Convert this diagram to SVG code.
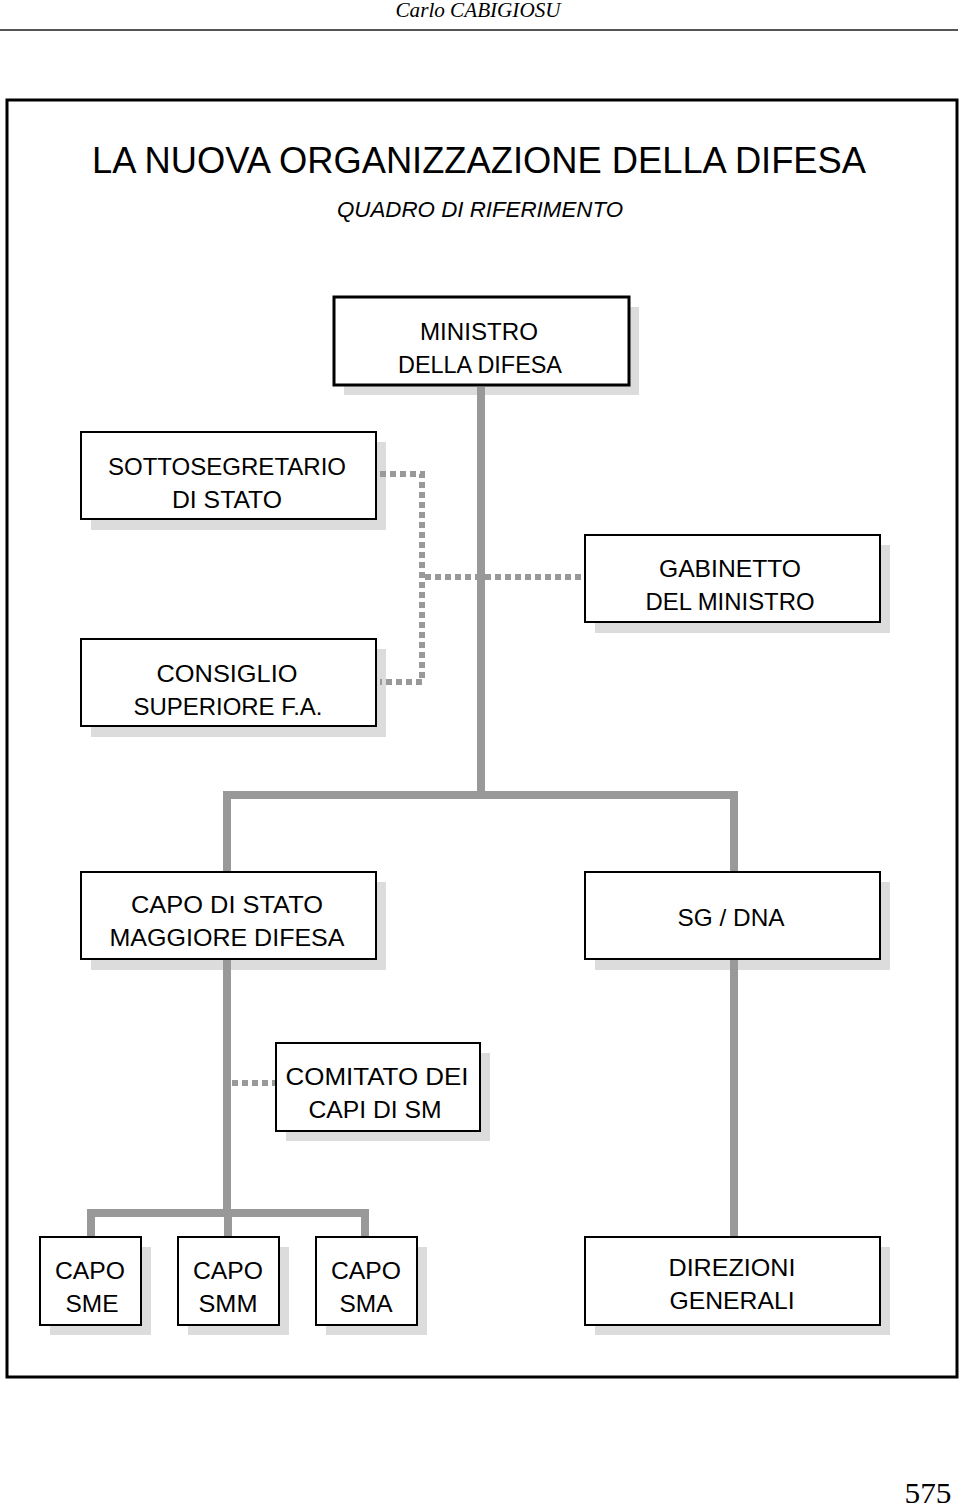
<svg xmlns="http://www.w3.org/2000/svg" width="960" height="1509" viewBox="0 0 960 1509">
<style>
.box{fill:#fff;stroke:#000;stroke-width:2}
.shadow{fill:#dcdcdc}
.t{font-family:"Liberation Sans",Arial,sans-serif;font-size:24px;fill:#000;text-anchor:middle}
.solid{fill:none;stroke:#999;stroke-width:8}
.dot{fill:none;stroke:#999;stroke-width:6;stroke-dasharray:6 4}
</style>
<rect width="960" height="1509" fill="#fff"/>
<text x="478" y="17" font-family="Liberation Serif,serif" font-style="italic" font-size="21" text-anchor="middle" textLength="165" lengthAdjust="spacingAndGlyphs">Carlo CABIGIOSU</text>
<line x1="0" y1="30" x2="958" y2="30" stroke="#555" stroke-width="2"/>
<rect x="7" y="100" width="950" height="1277" fill="none" stroke="#000" stroke-width="3"/>
<text x="479" y="173" font-family="Liberation Sans,Arial,sans-serif" font-size="36" text-anchor="middle" textLength="774" lengthAdjust="spacingAndGlyphs">LA NUOVA ORGANIZZAZIONE DELLA DIFESA</text>
<text x="480" y="217" font-family="Liberation Sans,Arial,sans-serif" font-style="italic" font-size="22" text-anchor="middle" textLength="286" lengthAdjust="spacingAndGlyphs">QUADRO DI RIFERIMENTO</text>

<g id="ministro">
<rect class="shadow" x="344" y="307" width="295" height="88"/>
<rect x="334" y="297" width="295" height="88" fill="#fff" stroke="#000" stroke-width="3"/>
<text class="t" x="479" y="340" textLength="118" lengthAdjust="spacingAndGlyphs">MINISTRO</text>
<text class="t" x="480" y="373" textLength="164" lengthAdjust="spacingAndGlyphs">DELLA DIFESA</text>
</g>
<g id="sottosegretario">
<rect class="shadow" x="91" y="442" width="295" height="88"/>
<rect class="box" x="81" y="432" width="295" height="87"/>
<text class="t" x="227" y="475" textLength="238" lengthAdjust="spacingAndGlyphs">SOTTOSEGRETARIO</text>
<text class="t" x="227" y="508" textLength="110" lengthAdjust="spacingAndGlyphs">DI STATO</text>
</g>
<g id="gabinetto">
<rect class="shadow" x="595" y="545" width="295" height="88"/>
<rect class="box" x="585" y="535" width="295" height="87"/>
<text class="t" x="730" y="577" textLength="142" lengthAdjust="spacingAndGlyphs">GABINETTO</text>
<text class="t" x="730" y="610" textLength="169" lengthAdjust="spacingAndGlyphs">DEL MINISTRO</text>
</g>
<g id="consiglio">
<rect class="shadow" x="91" y="649" width="295" height="88"/>
<rect class="box" x="81" y="639" width="295" height="87"/>
<text class="t" x="227" y="682" textLength="141" lengthAdjust="spacingAndGlyphs">CONSIGLIO</text>
<text class="t" x="228" y="715" textLength="189" lengthAdjust="spacingAndGlyphs">SUPERIORE F.A.</text>
</g>
<g id="capo-smd">
<rect class="shadow" x="91" y="882" width="295" height="88"/>
<rect class="box" x="81" y="872" width="295" height="87"/>
<text class="t" x="227" y="913" textLength="192" lengthAdjust="spacingAndGlyphs">CAPO DI STATO</text>
<text class="t" x="227" y="946" textLength="235" lengthAdjust="spacingAndGlyphs">MAGGIORE DIFESA</text>
</g>
<g id="sg-dna">
<rect class="shadow" x="595" y="882" width="295" height="88"/>
<rect class="box" x="585" y="872" width="295" height="87"/>
<text class="t" x="731" y="926" textLength="107" lengthAdjust="spacingAndGlyphs">SG / DNA</text>
</g>
<g id="comitato">
<rect class="shadow" x="286" y="1053" width="204" height="88"/>
<rect class="box" x="276" y="1043" width="204" height="88"/>
<text class="t" x="377" y="1085" textLength="183" lengthAdjust="spacingAndGlyphs">COMITATO DEI</text>
<text class="t" x="375" y="1118" textLength="133" lengthAdjust="spacingAndGlyphs">CAPI DI SM</text>
</g>
<g id="capo-sme">
<rect class="shadow" x="50" y="1247" width="101" height="88"/>
<rect class="box" x="40" y="1237" width="101" height="88"/>
<text class="t" x="90" y="1279" textLength="70" lengthAdjust="spacingAndGlyphs">CAPO</text>
<text class="t" x="92" y="1312" textLength="53" lengthAdjust="spacingAndGlyphs">SME</text>
</g>
<g id="capo-smm">
<rect class="shadow" x="188" y="1247" width="101" height="88"/>
<rect class="box" x="178" y="1237" width="101" height="88"/>
<text class="t" x="228" y="1279" textLength="70" lengthAdjust="spacingAndGlyphs">CAPO</text>
<text class="t" x="228" y="1312" textLength="59" lengthAdjust="spacingAndGlyphs">SMM</text>
</g>
<g id="capo-sma">
<rect class="shadow" x="326" y="1247" width="101" height="88"/>
<rect class="box" x="316" y="1237" width="101" height="88"/>
<text class="t" x="366" y="1279" textLength="70" lengthAdjust="spacingAndGlyphs">CAPO</text>
<text class="t" x="366" y="1312" textLength="53" lengthAdjust="spacingAndGlyphs">SMA</text>
</g>
<g id="direzioni">
<rect class="shadow" x="595" y="1247" width="295" height="88"/>
<rect class="box" x="585" y="1237" width="295" height="88"/>
<text class="t" x="732" y="1276" textLength="127" lengthAdjust="spacingAndGlyphs">DIREZIONI</text>
<text class="t" x="732" y="1309" textLength="125" lengthAdjust="spacingAndGlyphs">GENERALI</text>
</g>

<g id="connectors">
<polyline class="solid" points="481,387 481,795"/>
<polyline class="solid" points="227,871 227,795 734,795 734,871"/>
<polyline class="solid" points="227,960 227,1213"/>
<polyline class="solid" points="91,1236 91,1213 365,1213 365,1236"/>
<polyline class="solid" points="228,1213 228,1236"/>
<polyline class="solid" points="734,960 734,1236"/>
<polyline class="dot" points="380,474 422,474 422,682 380,682"/>
<polyline class="dot" points="425,577 584,577"/>
<polyline class="dot" points="232,1083 275,1083"/>
</g>

<text x="928" y="1503" font-family="Liberation Serif,serif" font-size="30" text-anchor="middle" textLength="47" lengthAdjust="spacingAndGlyphs">575</text>
</svg>
